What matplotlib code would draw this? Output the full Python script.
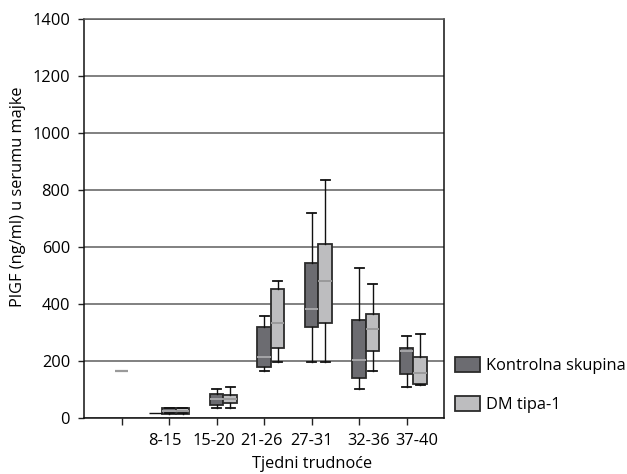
import matplotlib
matplotlib.use("Agg")
import matplotlib.pyplot as plt
from matplotlib.patches import Patch

plt.rcParams['font.family'] = ['Open Sans', 'DejaVu Sans']
plt.rcParams['font.size'] = 11.8

# ---- data ----
categories = ['', '8-15', '15-20', '21-26', '27-31', '32-36', '37-40']
series_names = ['Kontrolna skupina', 'DM tipa-1']

ctrl_low = [16, 34, 165, 195, 101, 110]
ctrl_q1 = [15, 46, 178, 320, 139, 156]
ctrl_med = [25, 66, 213, 381, 204, 235]
ctrl_q3 = [34, 83, 319, 543, 343, 247]
ctrl_high = [34, 101, 357, 718, 525, 288]

dm_low = [17, 36, 195, 195, 165, 117]
dm_q1 = [15, 54, 245, 332, 236, 121]
dm_med = [25, 68, 333, 480, 313, 157]
dm_q3 = [34, 81, 453, 611, 365, 213]
dm_high = [34, 108, 480, 835, 469, 295]

# isolated single-value marks (category index, value)
stray_cat = [0, 1]
stray_val = [166, 16]

y_ticks = [0, 200, 400, 600, 800, 1000, 1200, 1400]

# ---- styling ----
dark_fill = '#6c6c71'
light_fill = '#bdbdbf'
edge = '#2b2b2b'
grid_col = '#5e5e5e'
bw = 0.284

fig = plt.figure(figsize=(6.27, 4.74), dpi=100)
ax = fig.add_axes([84/627, 1-418/474, (444-84)/627, (418-19)/474])


def stats(lo, q1, med, q3, hi):
    return [dict(whislo=a, q1=b, med=c, q3=d, whishi=e, fliers=[])
            for a, b, c, d, e in zip(lo, q1, med, q3, hi)]


idx = list(range(1, len(categories)))
for st, off, fill, medc in [
        (stats(ctrl_low, ctrl_q1, ctrl_med, ctrl_q3, ctrl_high), 0.0, dark_fill, '#a5a5a8'),
        (stats(dm_low, dm_q1, dm_med, dm_q3, dm_high), bw, light_fill, '#9a9a9a')]:
    ax.bxp(st, positions=[i + off for i in idx], widths=bw, capwidths=0.19,
           patch_artist=True, showfliers=False, manage_ticks=False,
           boxprops=dict(facecolor=fill, edgecolor=edge, linewidth=1.3),
           medianprops=dict(color=medc, linewidth=1.4),
           whiskerprops=dict(color='#111111', linewidth=1.0),
           capprops=dict(color='#111111', linewidth=1.3), zorder=3)

# stray marks
ax.hlines(stray_val[0], stray_cat[0] - bw/2, stray_cat[0] + bw/2, color='#9a9a9a', lw=1.6, zorder=3)
ax.hlines(stray_val[1], stray_cat[1] - 1.5*bw, stray_cat[1] - bw/2, color='#111111', lw=1.0, zorder=3)

ax.set_xlim(-0.794, 6.785)
ax.set_ylim(0, 1400)
ax.set_yticks(y_ticks)
ax.set_yticklabels([str(v) for v in y_ticks])
ax.yaxis.grid(True, color=grid_col, lw=1.1)
ax.set_axisbelow(True)

# tick marks at category positions, labels slightly shifted as in the reference
ax.xaxis.remove_overlapping_locs = False
ax.set_xticks(range(len(categories)))
ax.set_xticklabels([''] * len(categories))
label_pos = [0.91, 1.94, 2.95, 4.0, 5.2, 6.22]
ax.set_xticks(label_pos, minor=True)
ax.set_xticklabels(categories[1:], minor=True)
ax.tick_params(axis='x', which='minor', length=0, pad=11)
ax.tick_params(axis='x', which='major', length=5, width=1, color='#222')
ax.tick_params(axis='y', length=4, width=1, pad=6, color='#222')

for s in ['left', 'bottom', 'right']:
    ax.spines[s].set_color('#111111')
    ax.spines[s].set_linewidth(1.1)
ax.spines['top'].set_color(grid_col)
ax.spines['top'].set_linewidth(1.1)

fig.text(18/627, 1-197/474, 'PlGF (ng/ml) u serumu majke', rotation=90,
         ha='center', va='center')
fig.text(312/627, 1-464/474, 'Tjedni trudnoće', ha='center', va='center')

handles = [Patch(facecolor=dark_fill, edgecolor=edge, linewidth=1.3),
           Patch(facecolor=light_fill, edgecolor=edge, linewidth=1.3)]
fig.legend(handles, series_names, loc='upper left',
           bbox_to_anchor=(455/627, 1-357/474), frameon=False,
           borderpad=0, borderaxespad=0, handlelength=1.5, handleheight=1.0,
           handletextpad=0.4, labelspacing=1.35)

fig.savefig('out.png', dpi=100)
